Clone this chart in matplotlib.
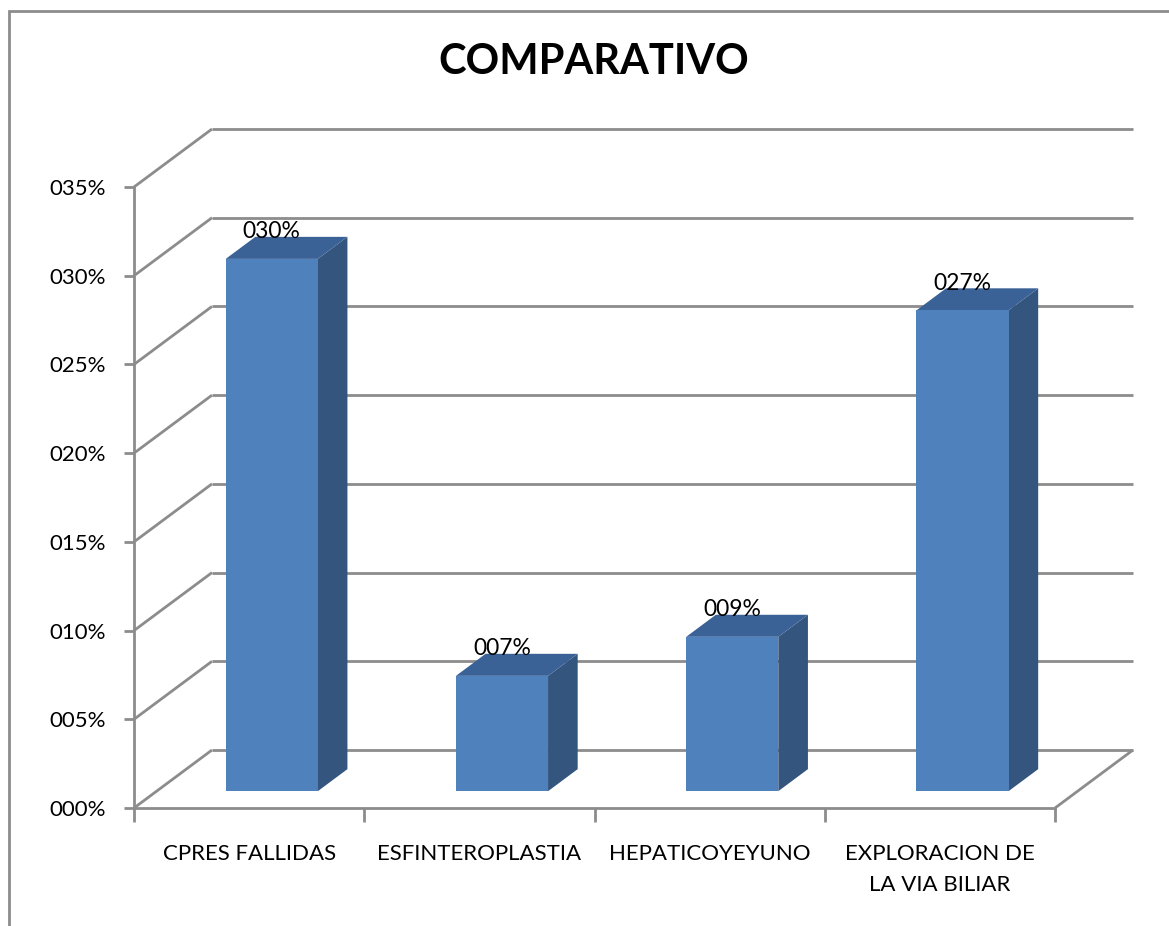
import matplotlib

matplotlib.use("Agg")
import matplotlib.pyplot as plt  # noqa: E402
from matplotlib.patches import Polygon, Rectangle  # noqa: E402

categories = ["CPRES FALLIDAS", "ESFINTEROPLASTIA", "HEPATICOYEYUNO",
              "EXPLORACION DE\nLA VIA BILIAR"]
values = [0.30, 0.065, 0.087, 0.271]
value_labels = ["030%", "007%", "009%", "027%"]
y_ticks = [0.0, 0.05, 0.10, 0.15, 0.20, 0.25, 0.30, 0.35]
y_tick_labels = ["000%", "005%", "010%", "015%", "020%", "025%", "030%", "035%"]
title = "COMPARATIVO"

FRONT = "#4f81bd"
SIDE = "#34557e"
TOP = "#3b6296"
GRID = "#8c8c8c"

plt.rcParams["font.family"] = ["Lato", "DejaVu Sans"]

W, H = 1169, 926
fig = plt.figure(figsize=(W / 100, H / 100), dpi=100)
fig.patch.set_facecolor("white")

# outer chart border (cropped on right/bottom)
fig.patches.append(Rectangle((9 / W, -0.1), 1.2, 1 - 11 / H + 0.1,
                             transform=fig.transFigure, fill=False,
                             edgecolor="#8c8c8c", lw=2))

fig.text(594 / W, 1 - 62 / H, title, ha="center", va="center",
         fontsize=30, fontweight="bold")

# front plane of the 3d box
x0, x1, yb, yt = 134, 1055, 808, 187
ax = fig.add_axes([x0 / W, 1 - yb / H, (x1 - x0) / W, (yb - yt) / H])
n = len(categories)
ymax = y_ticks[-1]
ax.set_xlim(0, n)
ax.set_ylim(0, ymax)
ax.patch.set_alpha(0)

# depth of the box in data units
DX = 78 / (x1 - x0) * n
DY = 58 / (yb - yt) * ymax

kw = dict(color=GRID, lw=2, clip_on=False, solid_capstyle="butt")
for t in y_ticks:
    ax.plot([0, DX], [t, t + DY], **kw)
    ax.plot([DX, n + DX], [t + DY, t + DY], **kw)
ax.plot([n, n + DX], [0, DY], **kw)

for s in ["top", "right"]:
    ax.spines[s].set_visible(False)
for s in ["left", "bottom"]:
    ax.spines[s].set_color(GRID)
    ax.spines[s].set_linewidth(2)

FS = 16
ax.set_yticks(y_ticks)
ax.set_yticklabels(y_tick_labels, fontsize=FS)
ax.tick_params(axis="y", length=7, width=2, color=GRID, pad=13)

ax.set_xticks(range(n + 1))
ax.set_xticklabels([])
ax.tick_params(axis="x", which="major", length=10, width=2, color=GRID)
ax.set_xticks([i + 0.5 for i in range(n)], minor=True)
ax.set_xticklabels(categories, minor=True, fontsize=FS, linespacing=1.7,
                   va="top")
ax.tick_params(axis="x", which="minor", length=0, pad=26)

# bars
f0, f1 = 0.29, 0.67
half = 0.2
for i, v in enumerate(values):
    cx = i + 0.5
    l = cx - half + f0 * DX
    r = cx + half + f0 * DX
    b = f0 * DY
    top = v + f0 * DY
    ddx = (f1 - f0) * DX
    ddy = (f1 - f0) * DY
    ax.add_patch(Polygon([(r, b), (r + ddx, b + ddy), (r + ddx, top + ddy),
                          (r, top)], closed=True, facecolor=SIDE,
                         edgecolor="none", clip_on=False, zorder=3))
    ax.add_patch(Polygon([(l, top), (r, top), (r + ddx, top + ddy),
                          (l + ddx, top + ddy)], closed=True, facecolor=TOP,
                         edgecolor="none", clip_on=False, zorder=3))
    ax.add_patch(Rectangle((l, b), r - l, v, facecolor=FRONT,
                           edgecolor="none", clip_on=False, zorder=4))
    ax.text(cx + f0 * DX, top + 27 / (yb - yt) * ymax, value_labels[i],
            ha="center", va="center", fontsize=FS + 0.5, zorder=5,
            clip_on=False)

fig.savefig("out.png", dpi=100, facecolor="white")
